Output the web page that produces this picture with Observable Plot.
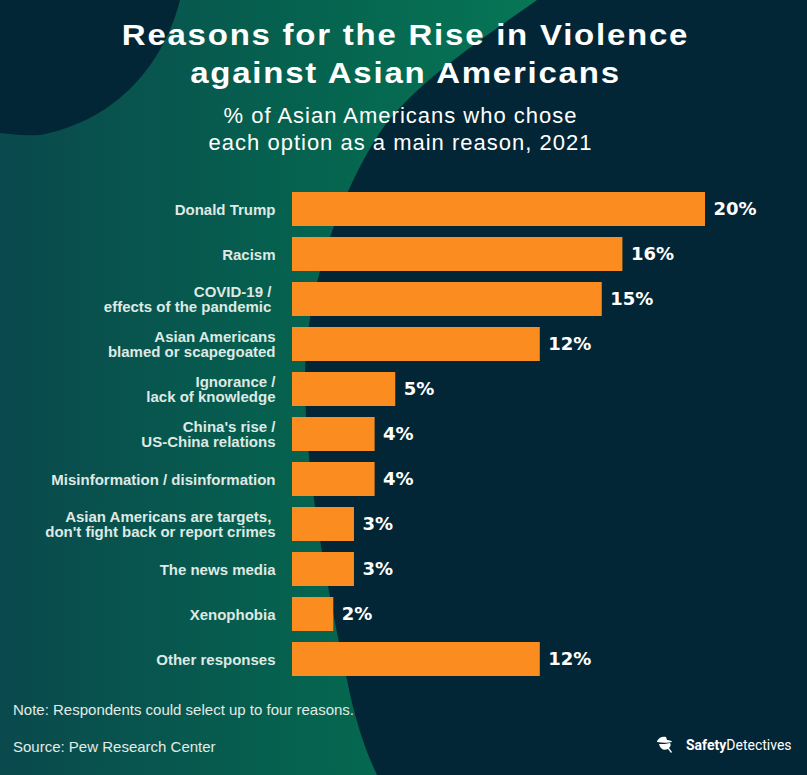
<!DOCTYPE html>
<html>
<head>
<meta charset="utf-8">
<script src="https://cdn.jsdelivr.net/npm/d3@7"></script>
<script src="https://cdn.jsdelivr.net/npm/@observablehq/plot@0.6"></script>
<style>
  html, body { margin: 0; padding: 0; }
  body { width: 807px; height: 775px; overflow: hidden; position: relative; background: #022636; font-family: "Liberation Sans", Arial, sans-serif; }
  #bg { position: absolute; left: 0; top: 0; }
  .title { position: absolute; left: 2px; width: 807px; text-align: center; color: #fff; font-weight: bold; font-size: 30px; line-height: 36px; letter-spacing: 1.6px; white-space: nowrap; transform: scaleX(1.1); transform-origin: 50% 50%; }
  .subtitle { position: absolute; left: -3px; width: 807px; text-align: center; color: #fff; font-size: 22px; line-height: 27px; letter-spacing: 1px; white-space: nowrap; }
  #chart { position: absolute; left: 0; top: 169px; }
  .note { position: absolute; left: 13px; color: #e2ebe6; font-size: 15px; line-height: 16px; white-space: nowrap; }
  .logo { position: absolute; left: 654px; top: 735px; display: flex; align-items: center; color: #fff; }
  .logo span.t { font-family: Roboto, "Liberation Sans", sans-serif; font-size: 14px; margin-left: 12px; }
</style>
</head>
<body>
<svg id="bg" width="807" height="775">
  <defs>
    <linearGradient id="g" x1="0" x2="1" y1="0" y2="0">
      <stop offset="0" stop-color="#0a494d"/>
      <stop offset="0.6" stop-color="#05644f"/>
      <stop offset="1" stop-color="#077656"/>
    </linearGradient>
  </defs>
  <rect width="807" height="775" fill="#022636"/>
  <path d="M0,0 L537,0 C480,40 420,80 385,125 C340,190 305,290 305,380 C305,480 330,600 347,680 C355,720 365,750 377,775 L0,775 Z" fill="url(#g)"/>
  <path d="M0,0 L180,0 C165,60 120,120 40,135 C25,136 10,134 0,133 Z" fill="#022636"/>
</svg>
<div class="title" style="top:17px">Reasons for the Rise in Violence</div>
<div class="title" style="top:55px">against Asian Americans</div>
<div class="subtitle" style="top:102px">% of Asian Americans who chose</div>
<div class="subtitle" style="top:129px">each option as a main reason, 2021</div>
<div id="chart"></div>
<div class="note" style="top:702px">Note: Respondents could select up to four reasons.</div>
<div class="note" style="top:739px">Source: Pew Research Center</div>
<div class="logo">
  <svg width="20" height="20" viewBox="0 0 20 20">
    <path d="M3,6 C5,2 9,1 12,2 L13,5 C16,5 18,6 18,7 C14,8 8,8 3,7 Z" fill="#fff"/>
    <path d="M5,9 C6,14 10,16 14,14 L17,18 L18,17 L15,13 C17,11 17,9 16,8 C13,9 8,9 5,9 Z" fill="#fff"/>
  </svg>
  <span class="t"><b>Safety</b>Detectives</span>
</div>
<script>
const categories = [
  "Donald Trump",
  "Racism",
  "COVID-19 /\u00a0\neffects of the pandemic\u00a0",
  "Asian Americans\nblamed or scapegoated",
  "Ignorance /\nlack of knowledge",
  "China's rise /\nUS-China relations",
  "Misinformation / disinformation",
  "Asian Americans are targets,\u00a0\ndon't fight back or report crimes",
  "The news media",
  "Xenophobia",
  "Other responses"
];
const values = [20, 16, 15, 12, 5, 4, 4, 3, 3, 2, 12];
const valueLabels = ["20%", "16%", "15%", "12%", "5%", "4%", "4%", "3%", "3%", "2%", "12%"];

const data = categories.map((c, i) => ({category: c, value: values[i], label: valueLabels[i]}));

const chart = Plot.plot({
  width: 807,
  height: 530,
  marginLeft: 292,
  marginRight: 102,
  marginTop: 10,
  marginBottom: 10,
  style: {background: "transparent", color: "#dfe9e4", overflow: "visible"},
  x: {domain: [0, 20], axis: null},
  y: {domain: categories, padding: 0.25, axis: null},
  marks: [
    Plot.barX(data, {x: "value", y: "category", fill: "#fb8c1f"}),
    Plot.text(data, {x: "value", y: "category", text: "label", textAnchor: "start", dx: 8, fill: "#ffffff", fontSize: 18, fontWeight: "bold", fontFamily: "DejaVu Sans"}),
    Plot.axisY({label: null, tickSize: 0, tickPadding: 17, fontSize: 15, fontWeight: "bold", fill: "#dfe9e4", lineHeight: 1.05, fontFamily: "Liberation Sans, Arial, sans-serif"})
  ]
});
document.getElementById("chart").appendChild(chart);
</script>
</body>
</html>
